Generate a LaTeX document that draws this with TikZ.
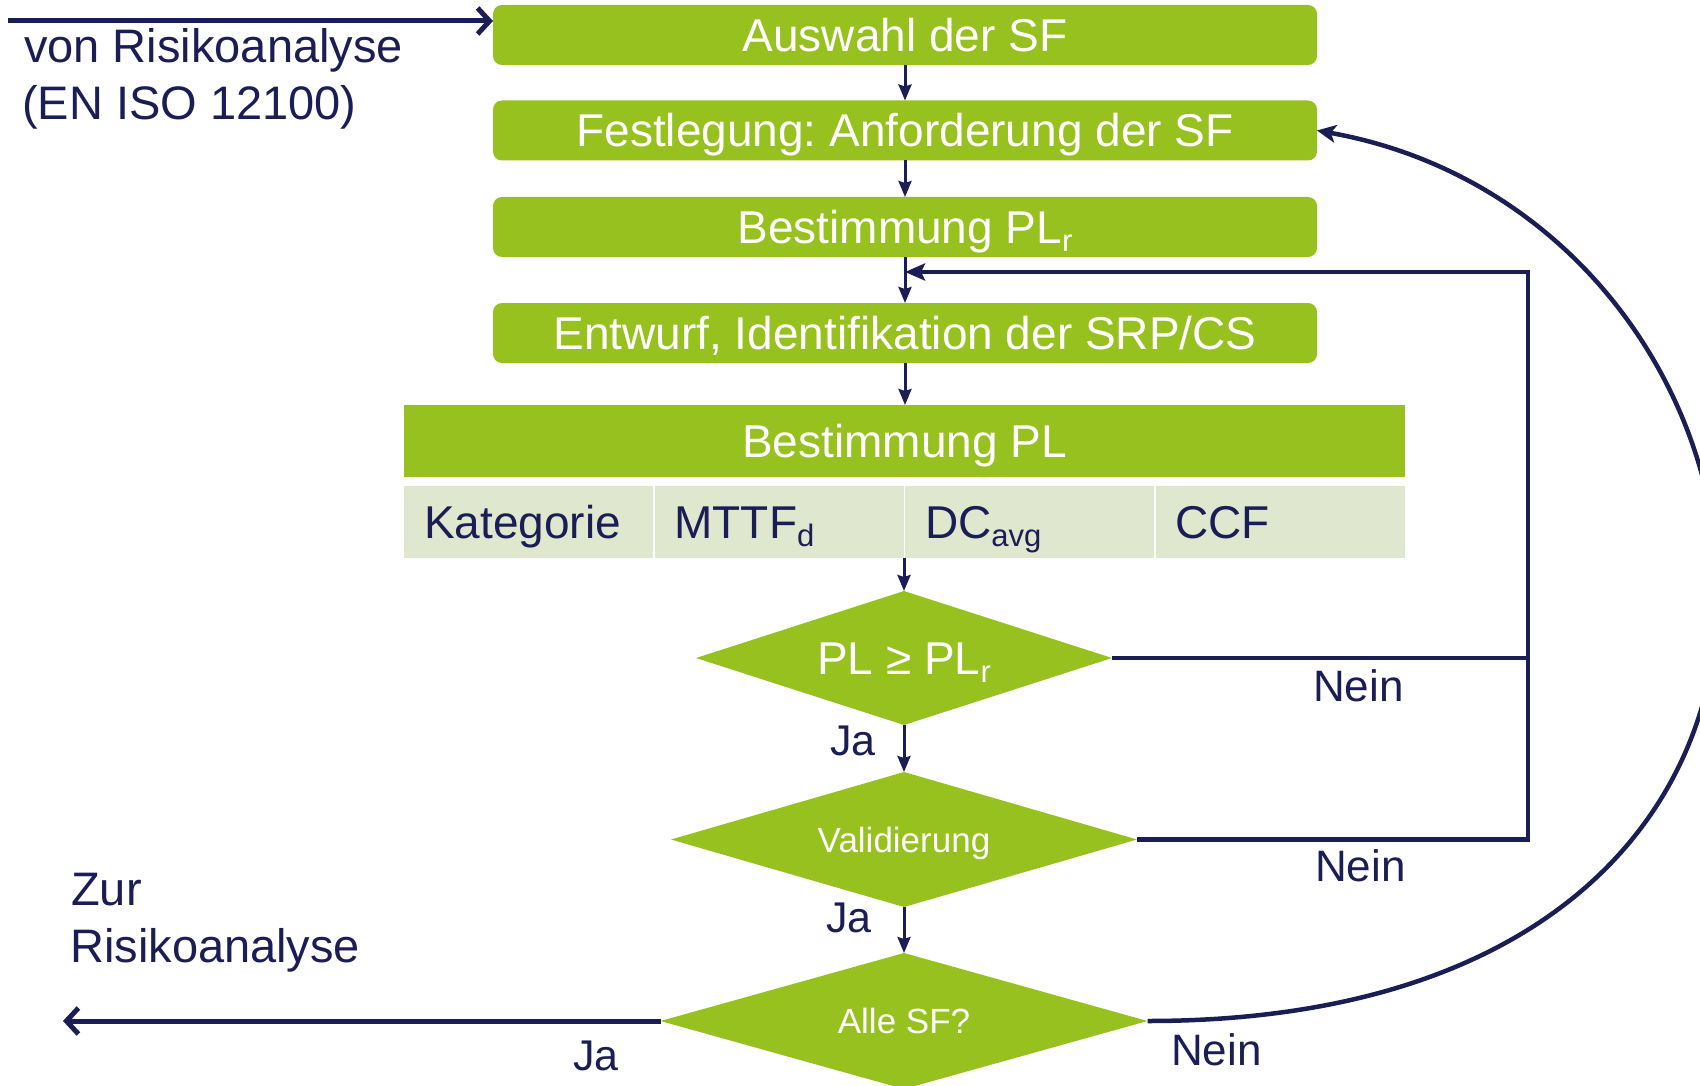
\documentclass[tikz,border=0pt]{standalone}
\usepackage{fontspec}
\setmainfont{Liberation Sans}
\usetikzlibrary{arrows.meta,shapes.geometric}

\definecolor{leaf}{RGB}{151,193,31}
\definecolor{leafpale}{RGB}{223,232,207}
\definecolor{navy}{RGB}{27,29,85}

% font size helper and lowered index text
\newcommand\fsz[1]{\fontsize{#1}{#1}\selectfont}
\newcommand\lowsub[1]{\raisebox{-8pt}{\fsz{31}#1}}
\frenchspacing

\begin{document}
\begin{tikzpicture}[x=1pt,y=-1pt,
  capbox/.style={text height=33pt, text depth=0pt, inner sep=0pt, outer sep=0pt},
  stepbox/.style={capbox, fill=leaf, rounded corners=9pt, minimum width=824pt,
    minimum height=60pt, text=white, font=\fsz{46}},
  headbox/.style={capbox, fill=leaf, minimum width=1001pt, minimum height=72pt,
    text=white, font=\fsz{46}},
  cellbox/.style={capbox, fill=leafpale, minimum height=72pt, inner xsep=20pt,
    text width=209pt, align=left, text=navy, font=\fsz{46}},
  decision/.style={diamond, fill=leaf, inner sep=0pt, outer sep=0pt,
    shape aspect=3.2, text=white, text depth=0pt},
  lbl/.style={anchor=base west, inner sep=0pt, text=navy},
  flow/.style={draw=navy, line width=3pt,
    -{Stealth[length=16pt,width=13pt,inset=2pt]}},
  backline/.style={draw=navy, line width=4.5pt},
  backarrow/.style={backline, -{Stealth[length=20pt,width=17pt,inset=4pt]}},
  backcurve/.style={draw=navy, line width=4.5pt,
    -{Stealth[length=19pt,width=18pt,inset=5pt]}},
  barbarrow/.style={draw=navy, line width=5pt,
    -{Straight Barb[length=12pt,width=26pt]}}
]
\useasboundingbox (0,0) rectangle (1700,1086);

% main chain of steps
\node[stepbox] (auswahl) at (905,35)    {Auswahl der SF};
\node[stepbox] (festl)   at (905,130.5) {Festlegung: Anforderung der SF};
\node[stepbox] (plr)     at (905,227)   {Bestimmung PL\lowsub{r}};
\node[stepbox] (entw)    at (905,333)   {Entwurf, Identifikation der SRP/CS};

% determination of PL with its four parameters
\node[headbox] (plhead) at (904.5,441) {Bestimmung PL};
\node[cellbox] (c1) at (528.5,522) {Kategorie};
\node[cellbox] (c2) at (779,522)   {MTTF\lowsub{d}};
\node[cellbox] (c3) at (1029.5,522) {DC\lowsub{avg}};
\node[cellbox] (c4) at (1280,522)  {CCF};

% decisions
\node[decision, minimum width=416pt, minimum height=134pt, text height=33pt,
  font=\fsz{46}] (d1) at (904,658) {PL ≥ PL\lowsub{r}};
\node[decision, minimum width=466pt, minimum height=135pt, text height=25pt,
  font=\fsz{35}] (d2) at (904,839.5) {Validierung};
\node[decision, minimum width=487pt, minimum height=136pt, text height=25pt,
  font=\fsz{35}] (d3) at (904,1021) {Alle SF?};

% free ends of connectors
\coordinate (inStart) at (8,21);
\coordinate (outEnd)  at (63,1021);
\coordinate (backtop) at (1528,272);
\coordinate (merge)   at (plr.south |- backtop);

% connectors
\draw[barbarrow] (inStart) -- (inStart -| auswahl.west);
\draw[flow] (auswahl.south) -- (festl.north);
\draw[flow] (festl.south) -- (plr.north);
\draw[flow] (plr.south) -- (entw.north);
\draw[flow] (entw.south) -- (entw.south |- plhead.north);
\draw[flow] (c2.south -| d1.north) -- (d1.north);
\draw[flow] (d1.south) -- (d2.north);
\draw[flow] (d2.south) -- (d3.north);

\draw[backline] (d1.east) -- (d1.east -| backtop);
\draw[backarrow] (d2.east) -| (backtop) -- (merge);
\draw[backcurve] (d3.east) .. controls (1935,1021) and (1820,220) .. (festl.east);
\draw[barbarrow] (d3.west) -- (outEnd);

% texts
\node[lbl, font=\fsz{47}] (fromA) at (24,63)  {von Risikoanalyse};
\node[lbl, font=\fsz{47}] (fromB) at (22,119.5) {(EN ISO 12100)};
\node[lbl, font=\fsz{47}] (toA) at (71,905) {Zur};
\node[lbl, font=\fsz{47}] (toB) at (70,962) {Risikoanalyse};

\node[lbl, font=\fsz{44}] (nein1) at (1313,701)  {Nein};
\node[lbl, font=\fsz{44}] (nein2) at (1315,881)  {Nein};
\node[lbl, font=\fsz{44}] (nein3) at (1171,1065) {Nein};

\node[lbl, font=\fsz{43}] (ja1) at (830,755)  {Ja};
\node[lbl, font=\fsz{43}] (ja2) at (826,932)  {Ja};
\node[lbl, font=\fsz{43}] (ja3) at (573,1070) {Ja};
\end{tikzpicture}
\end{document}
